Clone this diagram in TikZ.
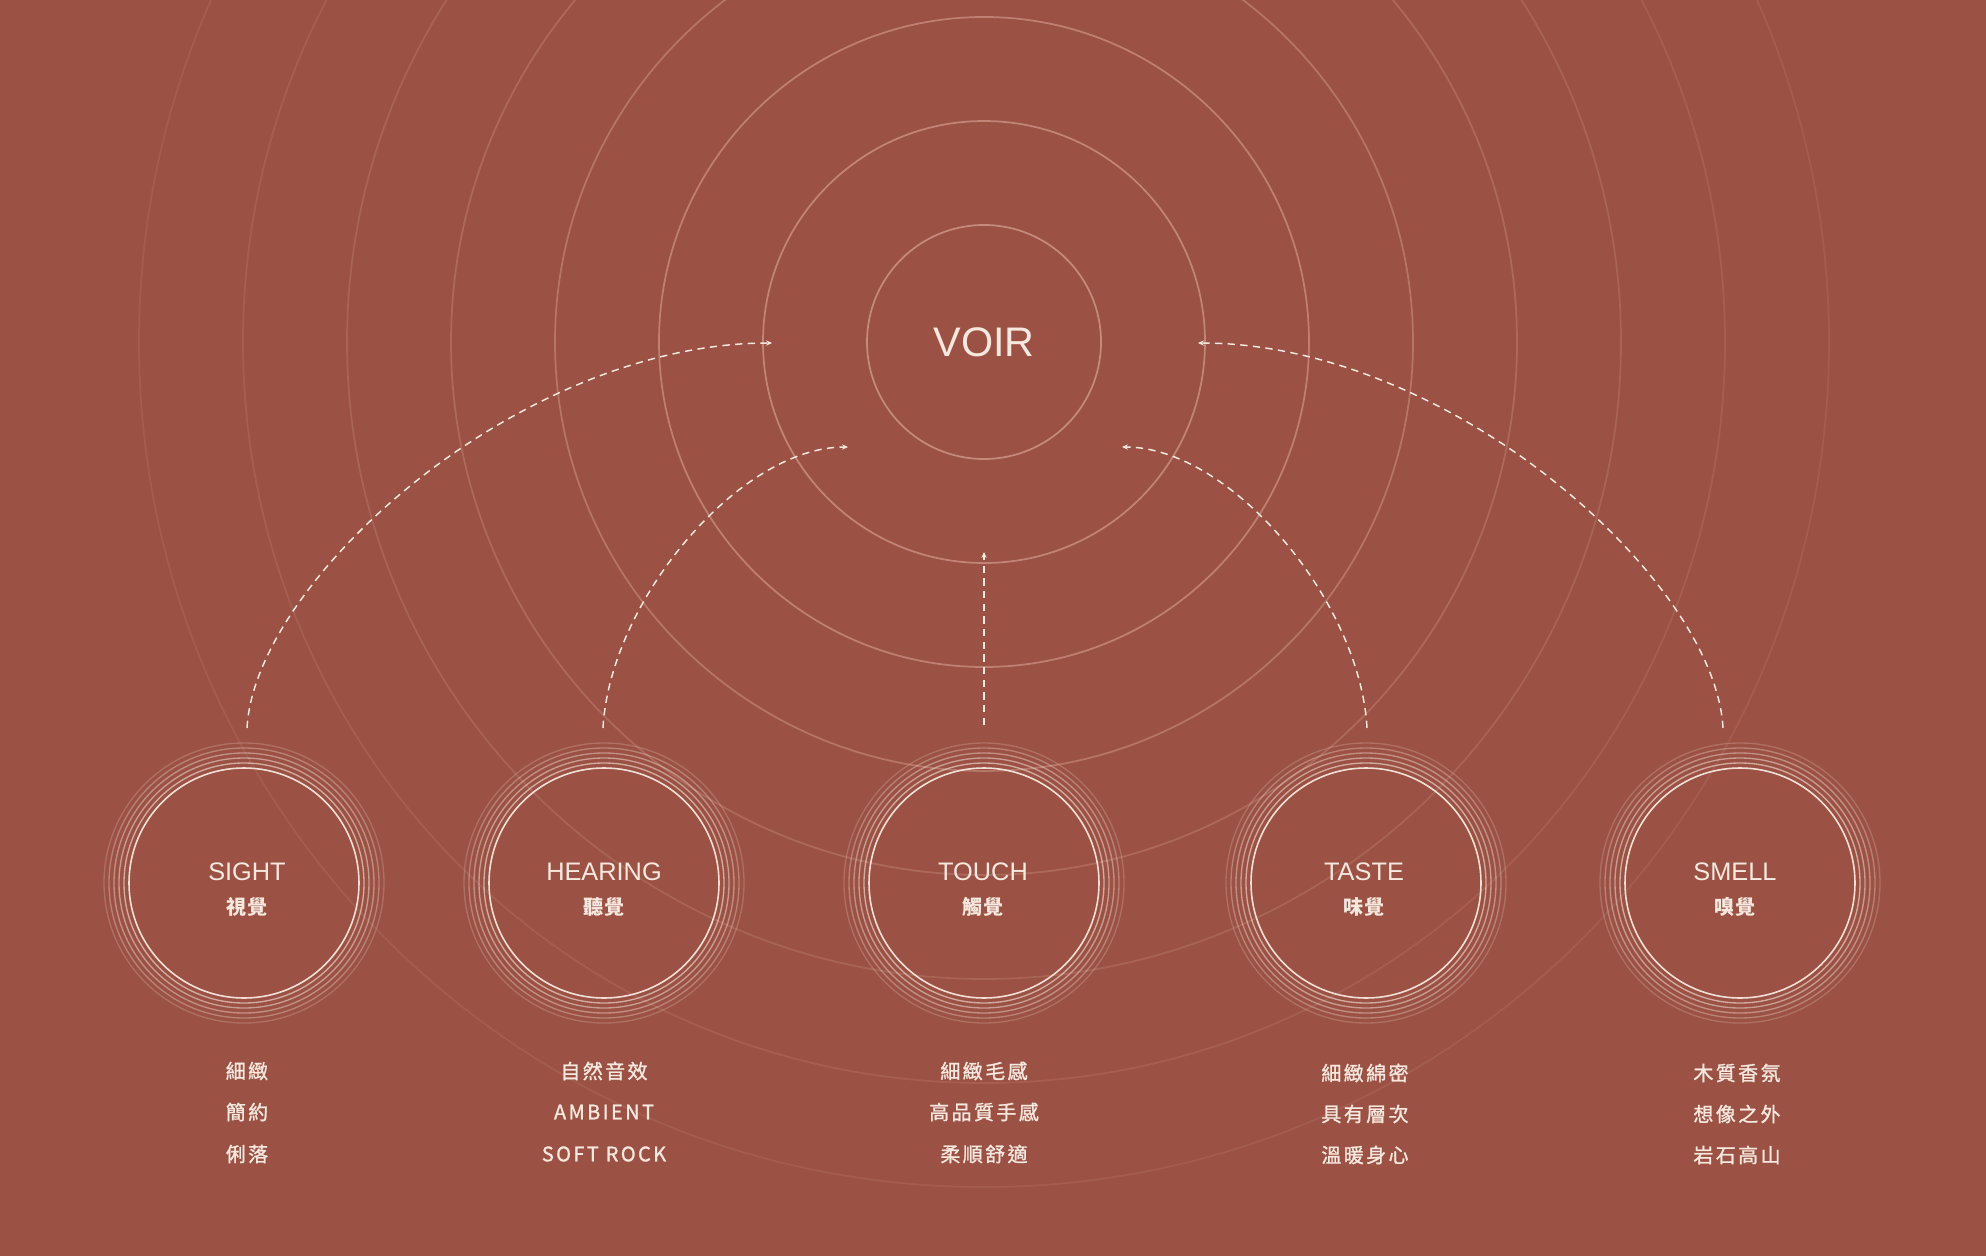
\documentclass[tikz,border=0pt]{standalone}
\usepackage{fontspec}
\setmainfont{Liberation Sans}
\newfontfamily\cjk{Noto Sans CJK TC}[LetterSpace=8]
\newfontfamily\cjklist{Noto Sans CJK TC}[LetterSpace=12,FakeBold=1.2]
\usetikzlibrary{arrows.meta}
\definecolor{bg}{HTML}{9B5244}
\definecolor{cream}{HTML}{F7E8DF}
\definecolor{ring}{HTML}{EDC2B2}
\begin{document}
\begin{tikzpicture}[x=0.75pt,y=-0.75pt,
  bigring/.style={draw=ring, line width=1.3pt},
  smallring/.style={draw=cream, line width=1pt},
  sensebox/.style={circle, minimum size=172.5pt, inner sep=0pt, draw=cream, line width=1.2pt},
  senselabel/.style={text=cream, font=\fontsize{19}{21}\selectfont, inner sep=0pt},
  sensecjk/.style={text=cream, font=\cjk\bfseries\fontsize{15}{17}\selectfont, inner sep=0pt},
  listtext/.style={text=cream, font=\cjklist\fontsize{15}{17}\selectfont, inner sep=0pt},
  flow/.style={draw=cream, line width=1.1pt, dash pattern=on 5.5pt off 4pt,
    -{Stealth[length=4.5pt,width=4pt]}}]
\useasboundingbox (0,0) rectangle (1986,1256);
\fill[bg] (0,0) rectangle (1986,1256);
\begin{scope}
\clip (0,0) rectangle (1986,1256);
\foreach \r/\o in {117/0.5,221/0.46,325/0.42,429/0.32,533/0.22,637/0.16,741/0.12,845/0.1}
  \draw[bigring, draw opacity=\o] (984,342) circle[radius=\r];
\end{scope}
% central node
\node[text=cream, font=\fontsize{31}{34}\selectfont, inner sep=0pt] (voir) at (984,342) {VOIR};
% sense circles
\foreach \n/\x/\tx/\lab/\cj in {sight/244/247/SIGHT/視覺, hearing/604/604/HEARING/聽覺, touch/984/983/TOUCH/觸覺, taste/1366/1364/TASTE/味覺, smell/1740/1735/SMELL/嗅覺}{
  \foreach \r/\o in {120/0.6,125/0.5,130/0.42,135/0.32,140/0.2}
    \draw[smallring, draw opacity=\o] (\x,883) circle[radius=\r];
  \node[sensebox, draw opacity=0.95] (\n) at (\x,883) {};
  \node[senselabel] (\n-lab) at (\tx,872) {\lab};
  \node[sensecjk] (\n-cjk) at (\tx,907) {\cj};
}
% lists
\node[listtext] (sight-a) at (247,1071) {細緻};
\node[listtext] (sight-b) at (247,1112) {簡約};
\node[listtext] (sight-c) at (247,1154) {俐落};
\node[listtext] (hearing-a) at (604,1071) {自然音效};
\node[listtext] (hearing-b) at (604,1112) {AMBIENT};
\node[listtext] (hearing-c) at (604,1154) {SOFT ROCK};
\node[listtext] (touch-a) at (984,1071) {細緻毛感};
\node[listtext] (touch-b) at (984,1112) {高品質手感};
\node[listtext] (touch-c) at (984,1154) {柔順舒適};
\node[listtext] (taste-a) at (1365,1073) {細緻綿密};
\node[listtext] (taste-b) at (1365,1114) {具有層次};
\node[listtext] (taste-c) at (1365,1155) {溫暖身心};
\node[listtext] (smell-a) at (1737,1073) {木質香氛};
\node[listtext] (smell-b) at (1737,1114) {想像之外};
\node[listtext] (smell-c) at (1737,1155) {岩石高山};
% connector end points
\coordinate (sightS) at (247,728);
\coordinate (sightE) at (772,343);
\coordinate (hearingS) at (603,728);
\coordinate (hearingE) at (848,447);
\coordinate (touchS) at (984,725);
\coordinate (touchE) at (984,552);
\coordinate (tasteS) at (1367,728);
\coordinate (tasteE) at (1122,447);
\coordinate (smellS) at (1723,728);
\coordinate (smellE) at (1198,343);
\draw[flow] (sightS) .. controls (255,580) and (520,343) .. (sightE);
\draw[flow] (hearingS) .. controls (610,600) and (740,447) .. (hearingE);
\draw[flow] (touchS) -- (touchE);
\draw[flow] (tasteS) .. controls (1360,600) and (1230,447) .. (tasteE);
\draw[flow] (smellS) .. controls (1715,580) and (1450,343) .. (smellE);
\end{tikzpicture}
\end{document}
